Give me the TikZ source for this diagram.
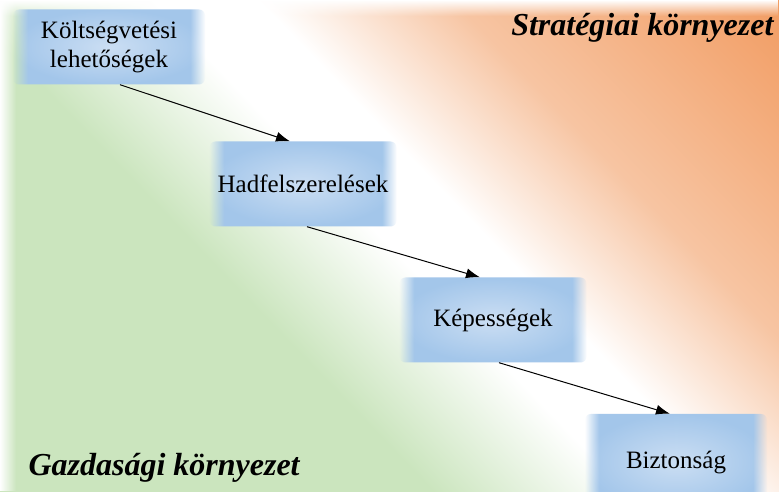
\documentclass[tikz,border=0pt]{standalone}
\usepackage{fontspec}
\setmainfont{Liberation Serif}
\usetikzlibrary{positioning,arrows.meta,fadings}
\definecolor{envgreen}{RGB}{203,229,190}
\definecolor{envorange}{RGB}{237,125,49}
\definecolor{boxblue}{RGB}{163,198,234}
\definecolor{boxlight}{RGB}{203,222,243}
\pgfdeclarehorizontalshading{envshade}{100bp}{color(0bp)=(envgreen); color(39bp)=(envgreen); color(50bp)=(white); color(56bp)=(white); color(67bp)=(envorange!45!white); color(100bp)=(envorange)}
\pgfdeclarehorizontalshading{boxedgeshade}{100bp}{color(0bp)=(black); color(25bp)=(black); color(29bp)=(white); color(71bp)=(white); color(75bp)=(black); color(100bp)=(black)}
\pgfdeclarefading{boxedge}{\pgfuseshading{boxedgeshade}}
\begin{document}
\begin{tikzpicture}[x=1pt, y=-1pt, on grid,
  box/.style = {rectangle, rounded corners=6pt, inner color=boxlight, outer color=boxblue, path fading=boxedge, minimum width=187pt, minimum height=85pt, align=center, font=\fontsize{25}{29}\selectfont},
  env/.style = {font=\fontsize{32}{36}\selectfont\bfseries\itshape},
  link/.style = {-{Latex[length=14pt,width=10pt]}, line width=1pt}]
\useasboundingbox (0,0) rectangle (779,491);
\clip (0,0) rectangle (779,491);
% background
\shade[shading=envshade, shading angle=44] (0,0) rectangle (779,491);
\fill[white, path fading=east] (0,0) rectangle (16,491);
\fill[white, path fading=south] (0,0) rectangle (779,16);
% boxes
\node[box, minimum width=192pt, minimum height=75pt] (budget) at (109,47) {Költségvetési\\lehetőségek};
\node[box] (arms) [below right=137pt and 194pt of budget] {Hadfelszerelések};
\node[box] (caps) [below right=136pt and 190pt of arms] {Képességek};
\node[box, minimum width=182pt, minimum height=96pt] (secu) [below right=142pt and 183pt of caps] {Biztonság};
% links
\draw[link] ([xshift=11pt]budget.south) -- ([xshift=-13pt]arms.north);
\draw[link] ([xshift=4pt]arms.south) -- ([xshift=-13pt]caps.north);
\draw[link] ([xshift=6pt]caps.south) -- ([xshift=-6pt]secu.north);
% labels
\node[env, anchor=base east] (strat) at (777,35) {Stratégiai környezet};
\node[env, anchor=base west] (econ) at (25,475) {Gazdasági környezet};
\end{tikzpicture}
\end{document}
